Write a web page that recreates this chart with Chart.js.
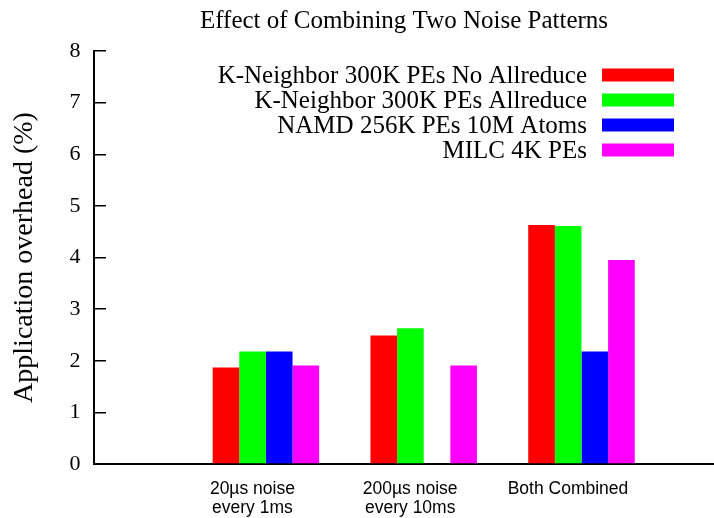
<!DOCTYPE html>
<html>
<head>
<meta charset="utf-8">
<script src="https://cdn.jsdelivr.net/npm/chart.js@4/dist/chart.umd.min.js"></script>
<style>
  html, body { margin: 0; padding: 0; background: #fff; }
  #wrap { width: 714px; height: 518px; }
</style>
</head>
<body>
<div id="wrap"><canvas id="noiseChart"></canvas></div>
<script>
// noise pattern categories (multi-line tick labels)
const categories = [
  ["20µs noise", "every 1ms"],
  ["200µs noise", "every 10ms"],
  ["Both Combined"]
];
const seriesNames = [
  "K-Neighbor 300K PEs No Allreduce",
  "K-Neighbor 300K PEs Allreduce",
  "NAMD 256K PEs 10M Atoms",
  "MILC 4K PEs"
];
// application overhead in %
const kNeighborNoAllreduce = [1.87, 2.49, 4.63];
const kNeighborAllreduce = [2.18, 2.63, 4.61];
const namd = [2.18, null, 2.18];
const milc = [1.91, 1.91, 3.95];
const yTickValues = [0, 1, 2, 3, 4, 5, 6, 7, 8];

const seriesValues = [kNeighborNoAllreduce, kNeighborAllreduce, namd, milc];
const seriesColors = ["#ff0000", "#00ff00", "#0000ff", "#ff00ff"];

const SERIF = "'Liberation Serif', 'Times New Roman', serif";
const SANS = "'Liberation Sans', Arial, sans-serif";

// legend drawn inside the plot, text right-aligned with a swatch after it
const insideLegend = {
  id: "insideLegend",
  afterDraw(chart) {
    const ctx = chart.ctx;
    ctx.save();
    ctx.font = "25px " + SERIF;
    ctx.textAlign = "right";
    ctx.textBaseline = "middle";
    chart.data.datasets.forEach((ds, i) => {
      const cy = 75 + i * 25;
      ctx.fillStyle = "#000";
      ctx.fillText(ds.label, 587, cy + 1);
      ctx.fillStyle = ds.backgroundColor;
      ctx.fillRect(602, cy - 6.5, 72, 13);
    });
    ctx.restore();
  }
};

const datasets = seriesNames.map((name, s) => ({
  label: name,
  data: seriesValues[s].map((v, i) => ({ x: i, y: v })),
  backgroundColor: seriesColors[s],
  borderWidth: 0,
  categoryPercentage: 0.675,
  barPercentage: 1
}));

new Chart(document.getElementById("noiseChart"), {
  type: "bar",
  data: { datasets },
  plugins: [insideLegend],
  options: {
    responsive: true,
    maintainAspectRatio: false,
    animation: false,
    layout: { padding: 0 },
    plugins: {
      legend: { display: false },
      tooltip: { enabled: false },
      title: {
        display: true,
        text: "Effect of Combining Two Noise Patterns",
        fullSize: false,
        color: "#000",
        font: { family: SERIF, size: 25, weight: "normal", lineHeight: 1.2 },
        padding: { top: 6, bottom: 15 }
      }
    },
    scales: {
      x: {
        type: "linear",
        offset: false,
        min: -1.0894,
        max: 2.8397,
        bounds: "data",
        afterBuildTicks: scale => {
          scale.ticks = categories.map((c, i) => ({ value: i }));
        },
        afterFit: scale => { scale.height = 54; },
        grid: { display: false, drawTicks: false, offset: false },
        border: { display: true, color: "#000", width: 2 },
        ticks: {
          autoSkip: false,
          maxRotation: 0,
          labelOffset: -13.5,
          padding: 15.6,
          color: "#000",
          font: { family: SANS, size: 17.5, lineHeight: 1.1 },
          callback: value => categories[value]
        }
      },
      y: {
        min: 0,
        max: 8,
        afterBuildTicks: scale => {
          scale.ticks = yTickValues.map(v => ({ value: v }));
        },
        afterFit: scale => { scale.width = 94; },
        grid: {
          drawOnChartArea: false,
          drawTicks: true,
          tickLength: -12,
          color: "#000",
          lineWidth: 1.5
        },
        border: { display: true, color: "#000", width: 2 },
        ticks: {
          padding: 25.5,
          color: "#000",
          font: { family: SERIF, size: 22 }
        },
        title: {
          display: true,
          text: "Application overhead (%)",
          color: "#000",
          font: { family: SERIF, size: 28, lineHeight: 1.2 },
          padding: { top: 8, bottom: 0 }
        }
      }
    }
  }
});
</script>
</body>
</html>
